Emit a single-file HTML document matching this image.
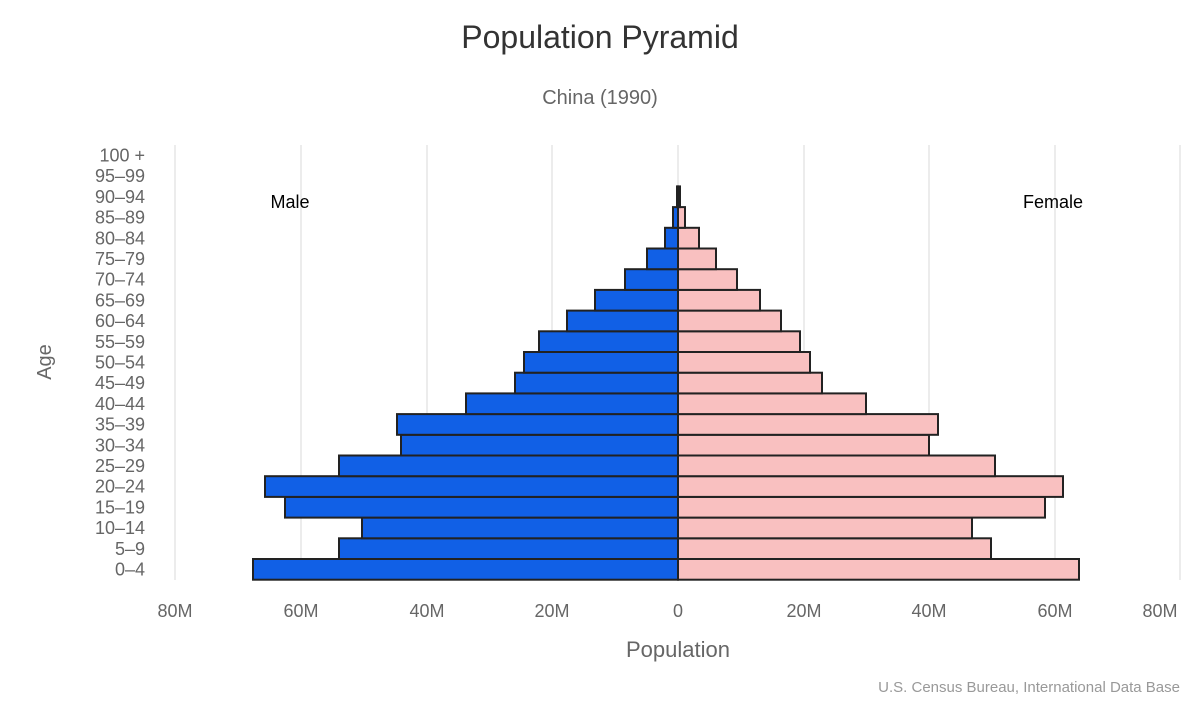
<!DOCTYPE html>
<html><head><meta charset="utf-8"><style>
html,body{margin:0;padding:0;background:#fff;}
svg{display:block;font-family:"Liberation Sans","DejaVu Sans",sans-serif;}
</style></head><body>
<svg width="1200" height="702" viewBox="0 0 1200 702">
<rect width="1200" height="702" fill="#fff"/>
<text x="600" y="48" text-anchor="middle" font-size="32" fill="#333">Population Pyramid</text>
<text x="600" y="104" text-anchor="middle" font-size="20" fill="#666">China (1990)</text>
<g stroke="#e6e6e6" stroke-width="1.5">
<line x1="175" y1="145" x2="175" y2="580"/><line x1="301" y1="145" x2="301" y2="580"/>
<line x1="427" y1="145" x2="427" y2="580"/><line x1="552" y1="145" x2="552" y2="580"/>
<line x1="678" y1="145" x2="678" y2="580"/><line x1="804" y1="145" x2="804" y2="580"/>
<line x1="929" y1="145" x2="929" y2="580"/><line x1="1055" y1="145" x2="1055" y2="580"/>
<line x1="1180" y1="145" x2="1180" y2="580"/>
</g>
<g id="bars" stroke="#222" stroke-width="2"></g>
<text x="290" y="208" text-anchor="middle" font-size="18" fill="#000">Male</text>
<text x="1053" y="208" text-anchor="middle" font-size="18" fill="#000">Female</text>
<g id="ages" font-size="18" fill="#666" text-anchor="end"></g>
<text transform="translate(51,362) rotate(-90)" text-anchor="middle" font-size="20" fill="#666">Age</text>
<g font-size="18" fill="#666" text-anchor="middle">
<text x="175" y="617">80M</text><text x="301" y="617">60M</text><text x="427" y="617">40M</text>
<text x="552" y="617">20M</text><text x="678" y="617">0</text><text x="804" y="617">20M</text>
<text x="929" y="617">40M</text><text x="1055" y="617">60M</text><text x="1160" y="617">80M</text>
</g>
<text x="678" y="657" text-anchor="middle" font-size="22" fill="#666">Population</text>
<text x="1180" y="692" text-anchor="end" font-size="15" fill="#999">U.S. Census Bureau, International Data Base</text>
</svg>
<script>
var L=[253,339,362,285,265,339,401,397,466,515,524,539,567,595,625,647,665,673,677,678,678];
var R=[1079,991,972,1045,1063,995,929,938,866,822,810,800,781,760,737,716,699,685,680,678,678];
var names=["0-4","5-9","10-14","15-19","20-24","25-29","30-34","35-39","40-44","45-49","50-54","55-59","60-64","65-69","70-74","75-79","80-84","85-89","90-94","95-99","100 +"];
var ns="http://www.w3.org/2000/svg",b=document.getElementById("bars"),a=document.getElementById("ages");
for(var i=0;i<21;i++){var yy=559-i*20.7;
 if(L[i]<678){var r=document.createElementNS(ns,"rect");r.setAttribute("x",L[i]);r.setAttribute("y",yy);r.setAttribute("width",678-L[i]);r.setAttribute("height",20.7);r.setAttribute("fill","#1160e6");b.appendChild(r);}
 if(R[i]>678){var r2=document.createElementNS(ns,"rect");r2.setAttribute("x",678);r2.setAttribute("y",yy);r2.setAttribute("width",R[i]-678);r2.setAttribute("height",20.7);r2.setAttribute("fill","#f9c0c0");b.appendChild(r2);}
 var t=document.createElementNS(ns,"text");t.setAttribute("x",145);t.setAttribute("y",yy+16.5);t.textContent=names[i].replace("-","\u2013");a.appendChild(t);}
</script>
</body></html>
